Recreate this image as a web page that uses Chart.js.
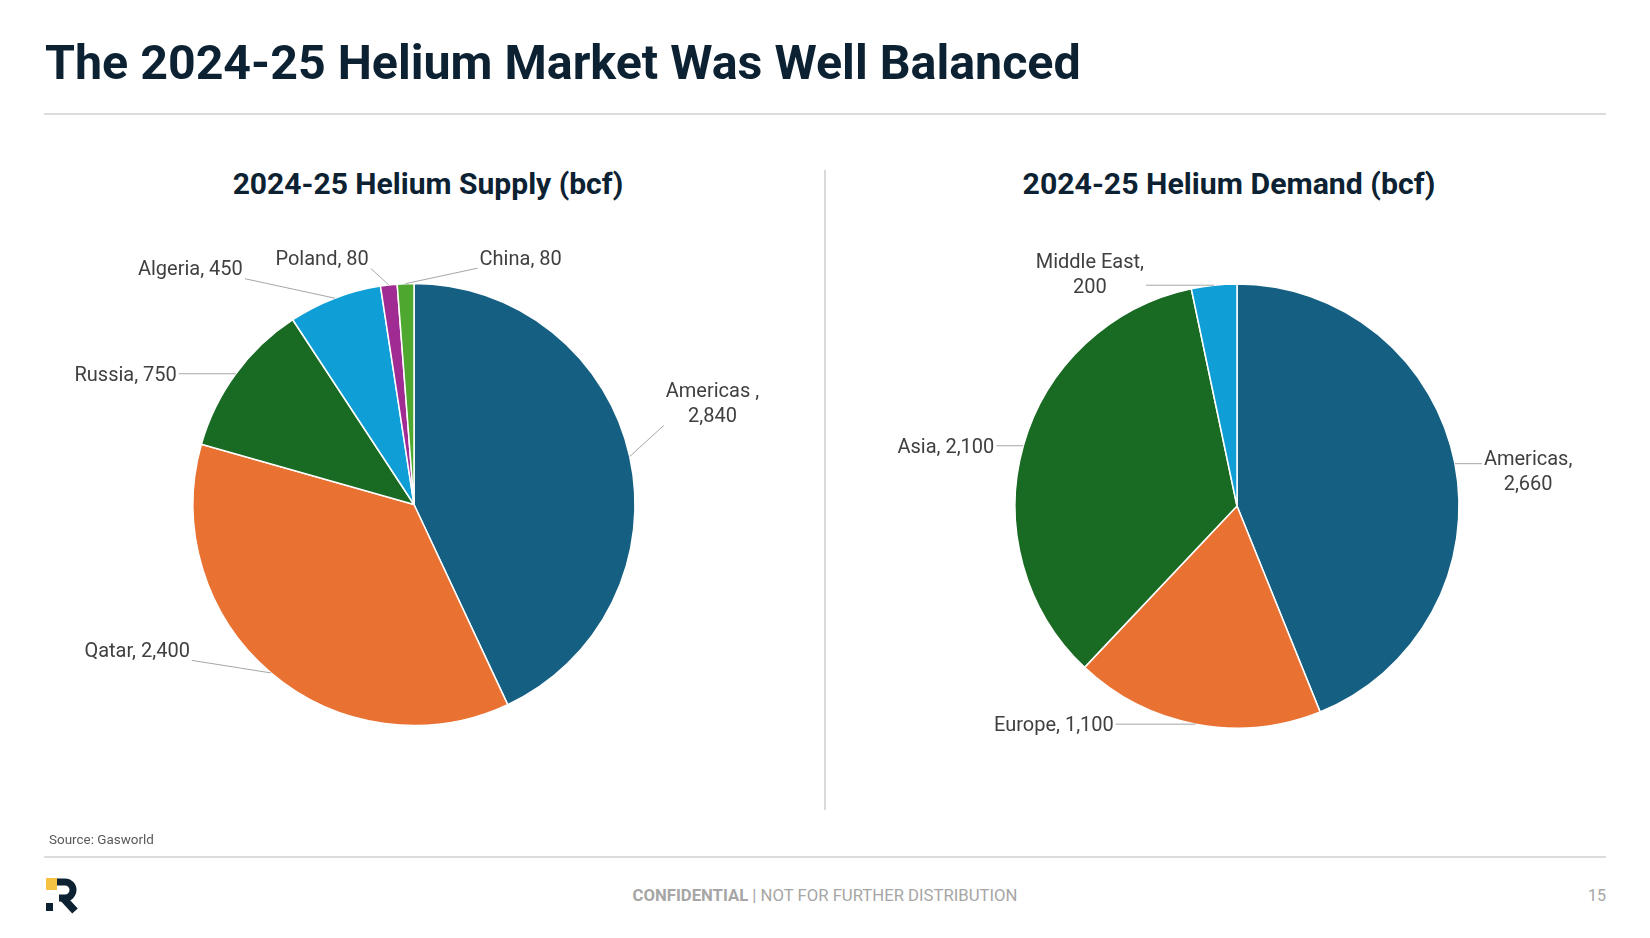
<!DOCTYPE html>
<html lang="en">
<head>
<meta charset="UTF-8">
<title>Helium Market</title>
<script src="https://cdn.jsdelivr.net/npm/chart.js@4.4.1/dist/chart.umd.min.js"></script>
<style>
  body { margin: 0; width: 1650px; height: 938px; background: #fff; position: relative; overflow: hidden; font-family: Roboto, "Noto Sans", sans-serif; }
  .abs { position: absolute; white-space: nowrap; }
  #title { left: 45px; top: 34px; font-size: 48px; font-weight: 700; color: #0c2232; }
  .rule { left: 44px; width: 1562px; height: 2px; background: #dcdcdc; }
  #divider { left: 824px; top: 170px; width: 2px; height: 640px; background: #d9d9d9; }
  .sub { top: 166px; font-size: 30px; font-weight: 700; color: #0c2232; }
  #source { left: 49px; top: 832px; font-size: 13.5px; color: #595959; }
  #footer { top: 886px; font-size: 16.5px; color: #a6a6a6; }
  #page { left: 1500px; width: 106px; top: 886px; text-align: right; font-size: 16px; color: #a6a6a6; }
</style>
</head>
<body>
<div id="title" class="abs" data-w="1036">The 2024-25 Helium Market Was Well Balanced</div>
<div class="abs rule" style="top:113px"></div>
<div id="subL" class="abs sub" data-w="391" data-cx="428">2024-25 Helium Supply (bcf)</div>
<div id="subR" class="abs sub" data-w="413" data-cx="1229">2024-25 Helium Demand (bcf)</div>
<div id="divider" class="abs"></div>
<canvas id="supplyChart" class="abs" style="left:0px; top:160px" width="828" height="689"></canvas>
<canvas id="demandChart" class="abs" style="left:830px; top:170px" width="814" height="672"></canvas>
<div id="source" class="abs" data-w="105">Source: Gasworld</div>
<div class="abs rule" style="top:856px"></div>
<svg class="abs" style="left:45px; top:878px" width="36" height="36" viewBox="0 0 36 36">
  <rect x="1" y="0" width="11" height="12" fill="#f6c244"/>
  <path d="M12 4 H20 A8 8 0 0 1 20 20 H14" fill="none" stroke="#0c2232" stroke-width="7"/>
  <line x1="18" y1="20" x2="30" y2="33" stroke="#0c2232" stroke-width="7.5"/>
  <rect x="1" y="25" width="7" height="8" fill="#0c2232"/>
</svg>
<div id="footer" class="abs" data-w="385" data-cx="825"><b>CONFIDENTIAL</b> | NOT FOR FURTHER DISTRIBUTION</div>
<div id="page" class="abs">15</div>

<script>
  // supply side
  const supplyLabels = ['Americas ', 'Qatar', 'Russia', 'Algeria', 'Poland', 'China'];
  const supplyValues = [2840, 2400, 750, 450, 80, 80];
  const supplyColors = ['#156082', '#e97132', '#196b24', '#0f9ed5', '#a02b93', '#4ea72e'];

  // demand side
  const demandLabels = ['Americas', 'Europe', 'Asia', 'Middle East'];
  const demandValues = [2660, 1100, 2100, 200];
  const demandColors = ['#156082', '#e97132', '#196b24', '#0f9ed5'];

  // where each data label sits, relative to the slice's outer edge midpoint
  const supplyLabelPos = [
    { dx: 36, dy: -52, align: 'left', split: true },
    { dx: -81, dy: -21, align: 'right' },
    { dx: -59, dy: 2, align: 'right' },
    { dx: -92, dy: -28, align: 'right' },
    { dx: -20, dy: -25, align: 'right' },
    { dx: 74, dy: -24, align: 'left' }
  ];
  const demandLabelPos = [
    { dx: 29, dy: 9, align: 'left', split: true },
    { dx: -82, dy: 2, align: 'right' },
    { dx: -29, dy: 2, align: 'right' },
    { dx: -70, dy: -10, align: 'right', split: true }
  ];

  // size the slide texts to the widths they have on the original slide
  document.querySelectorAll('[data-w]').forEach(el => {
    const fs = parseFloat(getComputedStyle(el).fontSize);
    const w = el.getBoundingClientRect().width;
    el.style.fontSize = (fs * el.dataset.w / w) + 'px';
    if (el.dataset.cx) {
      el.style.left = (el.dataset.cx - el.getBoundingClientRect().width / 2) + 'px';
    }
  });

  const fmt = v => v.toLocaleString('en-US');

  const outsideLabels = {
    id: 'outsideLabels',
    afterDatasetsDraw(chart, args, opts) {
      const ctx = chart.ctx;
      const meta = chart.getDatasetMeta(0);
      const values = chart.data.datasets[0].data;
      const lineH = 25;
      ctx.save();
      ctx.font = '20px Roboto, "Noto Sans", sans-serif';
      ctx.textBaseline = 'middle';
      meta.data.forEach((arc, i) => {
        const p = arc.getProps(['x', 'y', 'startAngle', 'endAngle', 'outerRadius'], true);
        const mid = (p.startAngle + p.endAngle) / 2;
        const ex = p.x + Math.cos(mid) * p.outerRadius;
        const ey = p.y + Math.sin(mid) * p.outerRadius;
        const pos = opts.pos[i];
        const cat = chart.data.labels[i];
        const lines = pos.split ? [cat + ',', fmt(values[i])] : [cat + ', ' + fmt(values[i])];
        const w = Math.max(...lines.map(l => ctx.measureText(l).width));
        const h = lines.length * lineH;
        const ax = ex + pos.dx, ay = ey + pos.dy;
        const left = pos.align === 'left' ? ax : ax - w;
        const top = ay - h / 2;
        // leader line to nearest point of the text box
        const nx = Math.min(Math.max(ex, left - 2), left + w + 2);
        const ny = Math.min(Math.max(ey, top + 6), top + h - 4);
        ctx.strokeStyle = '#a6a6a6';
        ctx.lineWidth = 1;
        ctx.beginPath();
        ctx.moveTo(ex, ey);
        ctx.lineTo(nx, ny);
        ctx.stroke();
        ctx.fillStyle = '#404040';
        ctx.textAlign = 'center';
        lines.forEach((l, k) => {
          ctx.fillText(l, left + w / 2, top + lineH * (k + 0.5));
        });
      });
      ctx.restore();
    }
  };

  function makePie(id, labels, values, colors, radius, pos) {
    return new Chart(document.getElementById(id), {
      type: 'pie',
      data: {
        labels: labels,
        datasets: [{
          data: values,
          backgroundColor: colors,
          borderColor: '#ffffff',
          borderWidth: 1.5
        }]
      },
      options: {
        responsive: false,
        animation: false,
        radius: radius,
        plugins: {
          legend: { display: false },
          tooltip: { enabled: false },
          outsideLabels: { pos: pos }
        }
      },
      plugins: [outsideLabels]
    });
  }

  makePie('supplyChart', supplyLabels, supplyValues, supplyColors, 221, supplyLabelPos);
  makePie('demandChart', demandLabels, demandValues, demandColors, 222, demandLabelPos);
</script>
</body>
</html>
